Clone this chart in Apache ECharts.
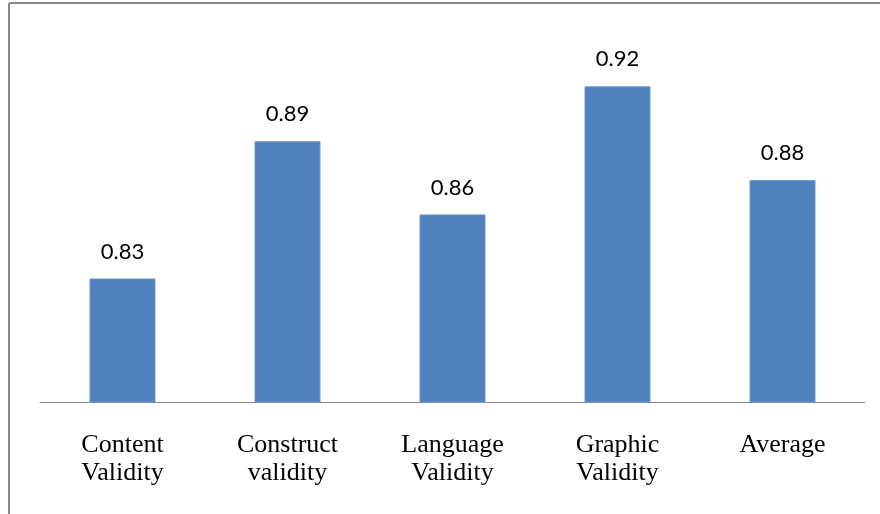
<!DOCTYPE html>
<html>
<head>
<meta charset="utf-8">
<script src="https://cdn.jsdelivr.net/npm/echarts@6/dist/echarts.min.js"></script>
<style>
html,body{margin:0;padding:0;background:#fff;}
#chart{width:880px;height:514px;}
</style>
</head>
<body>
<div id="chart"></div>
<script>
var categories = ['Content\nValidity', 'Construct\nvalidity', 'Language\nValidity', 'Graphic\nValidity', 'Average'];
var values = [0.834, 0.894, 0.862, 0.918, 0.877];

var chart = echarts.init(document.getElementById('chart'), null, {renderer: 'canvas'});
chart.setOption({
  animation: false,
  backgroundColor: '#ffffff',
  grid: {left: 40, right: 15, top: 36, bottom: 112, containLabel: false},
  xAxis: {
    type: 'category',
    data: categories,
    axisTick: {show: false},
    axisLine: {lineStyle: {color: '#888888', width: 1}},
    axisLabel: {
      interval: 0,
      margin: 29,
      color: '#000000',
      fontFamily: '"Liberation Serif", "Times New Roman", serif',
      fontSize: 26,
      lineHeight: 28
    }
  },
  yAxis: {
    type: 'value',
    min: 0.78,
    max: 0.94,
    show: false,
    splitLine: {show: false}
  },
  series: [{
    type: 'bar',
    data: values,
    barWidth: '40%',
    itemStyle: {color: '#4F81BD', borderColor: '#6f97c9', borderWidth: 1},
    label: {
      show: true,
      position: 'top',
      distance: 16,
      color: '#000000',
      fontFamily: 'Lato, "Open Sans", sans-serif',
      fontSize: 22,
      lineHeight: 22,
      formatter: function (p) { return p.value.toFixed(2); }
    }
  }],
  graphic: [
    {type: 'line', shape: {x1: 9, y1: 3, x2: 880, y2: 3}, style: {stroke: '#8a8a8a', lineWidth: 2}},
    {type: 'line', shape: {x1: 9, y1: 3, x2: 9, y2: 514}, style: {stroke: '#8a8a8a', lineWidth: 2}}
  ]
});
</script>
</body>
</html>
